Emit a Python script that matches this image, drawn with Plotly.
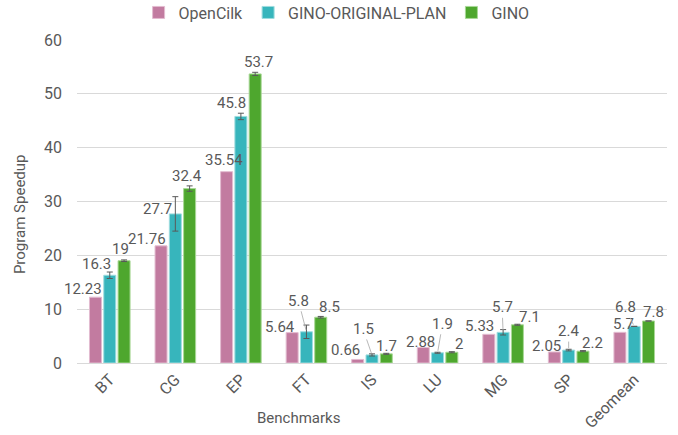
import plotly.graph_objects as go

categories = ["BT", "CG", "EP", "FT", "IS", "LU", "MG", "SP", "Geomean"]
opencilk = [12.23, 21.76, 35.54, 5.64, 0.66, 2.88, 5.33, 2.05, 5.7]
gino_orig = [16.3, 27.7, 45.8, 5.8, 1.5, 1.9, 5.7, 2.4, 6.8]
gino = [19, 32.4, 53.7, 8.5, 1.7, 2, 7.1, 2.2, 7.8]
gino_orig_err = [0.6, 3.2, 0.6, 1.25, 0.2, 0.1, 0.5, 0.15, 0]
gino_err = [0.15, 0.5, 0.3, 0.15, 0.1, 0.1, 0.1, 0.1, 0]
opencilk_lbl = ["12.23", "21.76", "35.54", "5.64", "0.66", "2.88", "5.33", "2.05", "5.7"]
gino_orig_lbl = ["16.3", "27.7", "45.8", "5.8", "1.5", "1.9", "5.7", "2.4", "6.8"]
gino_lbl = ["19", "32.4", "53.7", "8.5", "1.7", "2", "7.1", "2.2", "7.8"]

names = ["OpenCilk", "GINO-ORIGINAL-PLAN", "GINO"]
colors = ["#C27BA0", "#37B5BC", "#4EA72E"]
edges = ["#E3BCD0", "#9FDCDF", "#A8D896"]
txt = "#595959"
FONT = "Roboto"

# label placement (pixel offsets from bar top centre), and leader flags
lbl_dx = [
    [-12, -14, -3, -12, -12, -3, -9, -8, 4],
    [-13, -18, -9, -8, -9, 5, -1, 0, -9],
    [-4, -3, 3, 9, 0, 7, 12, 10, 5],
]
lbl_dy = [
    [-8, -7, -12, -6, -9, -6, -8, -6, -8],
    [-11, -5, -13, -31, -26, -29, -25, -19, -19],
    [-12, -13, -12, -10, -8, -8, -8, -8, -9],
]
leader = [
    [0] * 9,
    [0, 0, 0, 1, 1, 1, 1, 1, 1],
    [0] * 9,
]

fig = go.Figure()
series = [opencilk, gino_orig, gino]
errs = [None, gino_orig_err, gino_err]
for k in range(3):
    fig.add_trace(go.Bar(
        x=categories, y=series[k], name=names[k],
        marker=dict(color=colors[k], line=dict(color=edges[k], width=1)),
        error_y=(dict(type="data", array=errs[k], visible=True, color="#595959",
                      thickness=1, width=3) if errs[k] is not None else None),
    ))

bargap = 0.346
slot = (1 - bargap) / 3
labels = [opencilk_lbl, gino_orig_lbl, gino_lbl]
annotations = []
for k in range(3):
    for i, v in enumerate(series[k]):
        xpos = i + (k - 1) * slot
        if leader[k][i]:
            annotations.append(dict(
                x=xpos, y=v, xref="x", yref="y", text=labels[k][i],
                showarrow=True, arrowhead=0, arrowwidth=0.8, arrowcolor="#A6A6A6",
                ax=lbl_dx[k][i], ay=lbl_dy[k][i], standoff=2,
                font=dict(size=15, color=txt, family=FONT)))
        else:
            annotations.append(dict(
                x=xpos, y=v, xref="x", yref="y", text=labels[k][i],
                showarrow=False, xshift=lbl_dx[k][i], yshift=-lbl_dy[k][i],
                font=dict(size=15, color=txt, family=FONT)))

# axis titles as paper-positioned text
annotations.append(dict(x=0.3746, y=-0.170, xref="paper", yref="paper", text="Benchmarks",
                        xanchor="center", yanchor="middle",
                        showarrow=False, font=dict(size=15, color=txt, family=FONT)))
annotations.append(dict(x=-0.0966, y=0.461, xref="paper", yref="paper", text="Program Speedup",
                        xanchor="center", yanchor="middle",
                        textangle=-90, showarrow=False, font=dict(size=15, color=txt, family=FONT)))

fig.update_layout(
    width=678, height=435,
    margin=dict(l=77, r=11, t=40, b=72, autoexpand=False),
    paper_bgcolor="white", plot_bgcolor="white",
    barmode="group", bargap=bargap, bargroupgap=0.16,
    font=dict(family=FONT, size=15, color=txt),
    legend=dict(orientation="h", x=0.44, xanchor="center", y=1.085, yanchor="middle",
                font=dict(size=16, color=txt), traceorder="normal"),
    annotations=annotations,
    xaxis=dict(range=[-0.5, 8.5], tickangle=-45, showline=True, linecolor="#D9D9D9", linewidth=1,
               ticks="", tickfont=dict(size=16, color=txt), automargin=False),
    yaxis=dict(range=[0, 60], dtick=10, showgrid=True, gridcolor="#D9D9D9", gridwidth=1,
               zeroline=False, ticks="", tickfont=dict(size=16, color=txt), automargin=False,
               ticklabelstandoff=14),
)

fig.write_html("out.html", config={"displayModeBar": False},
               post_script="document.body.style.margin='0';")
